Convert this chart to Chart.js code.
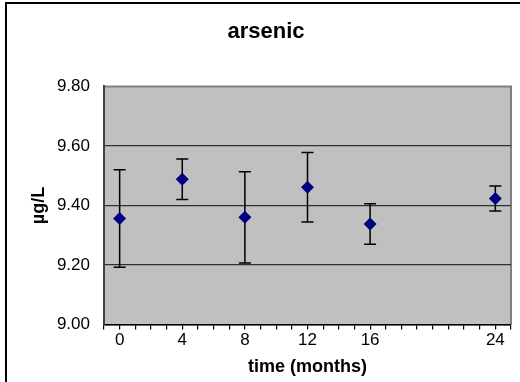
<!DOCTYPE html>
<html>
<head>
<meta charset="utf-8">
<title>arsenic</title>
<script src="https://cdn.jsdelivr.net/npm/chart.js@4/dist/chart.umd.min.js"></script>
<style>
    html, body { margin: 0; padding: 0; background: #fff; overflow: hidden; }
    #wrap { position: relative; width: 520px; height: 382px; }
    #frame {
        position: absolute; left: 5px; top: 2px; width: 530px; height: 400px;
        border-left: 2px solid #000; border-top: 2px solid #000;
        pointer-events: none;
    }
    canvas { position: absolute; left: 0; top: 0; }
</style>
</head>
<body>
<div id="wrap">
    <canvas id="chart" width="520" height="382"></canvas>
    <div id="frame"></div>
</div>
<script>
// sampling times (months) and measured arsenic, mean +/- sd
const months = [0, 4, 8, 12, 16, 24];
const means = [9.356, 9.488, 9.360, 9.461, 9.338, 9.423];
const sds = [0.164, 0.068, 0.153, 0.117, 0.068, 0.042];
const xTickLabels = [0, 4, 8, 12, 16, 24];
const yTicks = [9.0, 9.2, 9.4, 9.6, 9.8];

const FONT = "'Liberation Sans', Arial, sans-serif";

// grey plot area with a thin darker border on top and right
const plotArea = {
    id: "plotArea",
    beforeDraw(chart) {
        const { ctx, chartArea: a } = chart;
        ctx.save();
        ctx.fillStyle = "#c0c0c0";
        ctx.fillRect(a.left, a.top, a.right - a.left, a.bottom - a.top);
        ctx.strokeStyle = "#808080";
        ctx.lineWidth = 2;
        ctx.beginPath();
        ctx.moveTo(a.left, a.top);
        ctx.lineTo(a.right, a.top);
        ctx.lineTo(a.right, a.bottom);
        ctx.stroke();
        ctx.restore();
    }
};

// vertical error bars with caps, drawn under the markers
const errorBars = {
    id: "errorBars",
    beforeDatasetsDraw(chart) {
        const { ctx, scales: { x, y } } = chart;
        ctx.save();
        ctx.strokeStyle = "#000";
        ctx.lineWidth = 1.5;
        months.forEach((m, i) => {
            const px = x.getPixelForValue(m);
            const top = y.getPixelForValue(means[i] + sds[i]);
            const bot = y.getPixelForValue(means[i] - sds[i]);
            ctx.beginPath();
            ctx.moveTo(px, top);
            ctx.lineTo(px, bot);
            ctx.moveTo(px - 6, top);
            ctx.lineTo(px + 6, top);
            ctx.moveTo(px - 6, bot);
            ctx.lineTo(px + 6, bot);
            ctx.stroke();
        });
        ctx.restore();
    }
};

new Chart(document.getElementById("chart"), {
    type: "scatter",
    data: {
        datasets: [{
            label: "arsenic",
            data: months.map((m, i) => ({ x: m, y: means[i] })),
            pointStyle: "rectRot",
            pointRadius: 6.5,
            pointHoverRadius: 6.5,
            backgroundColor: "#000080",
            borderColor: "#000080",
            borderWidth: 0,
            showLine: false
        }]
    },
    options: {
        responsive: false,
        animation: false,
        events: [],
        layout: { padding: { left: 21, right: 9, top: 0, bottom: 0 } },
        plugins: {
            legend: { display: false },
            tooltip: { enabled: false },
            title: {
                display: true,
                text: "arsenic",
                color: "#000",
                font: { family: FONT, size: 22, weight: "bold" },
                padding: { top: 19, bottom: 41 }
            }
        },
        scales: {
            x: {
                type: "linear",
                min: -1,
                max: 25,
                afterFit: s => { s.height = 57.5; },
                ticks: {
                    stepSize: 1,
                    autoSkip: false,
                    maxRotation: 0,
                    padding: 1,
                    color: "#000",
                    font: { family: FONT, size: 17 },
                    callback: v => xTickLabels.includes(v) ? String(v) : ""
                },
                grid: {
                    drawOnChartArea: false,
                    drawTicks: true,
                    tickLength: 5,
                    color: "#000",
                    lineWidth: 1.2
                },
                border: { color: "#000", width: 1.5 },
                title: {
                    display: true,
                    text: "time (months)",
                    color: "#000",
                    font: { family: FONT, size: 18, weight: "bold" },
                    padding: { top: 0, bottom: 4 }
                }
            },
            y: {
                min: 9.0,
                max: 9.8,
                afterFit: s => { s.width = 83; },
                afterBuildTicks: s => { s.ticks = yTicks.map(v => ({ value: v })); },
                ticks: {
                    padding: 14,
                    color: "#000",
                    font: { family: FONT, size: 17 },
                    callback: v => v.toFixed(2)
                },
                grid: {
                    drawTicks: false,
                    color: c => c.tick && c.tick.value >= 9.8 ? "rgba(0,0,0,0)" : "#303030",
                    lineWidth: 1.2
                },
                border: { color: "#404040", width: 2 },
                title: {
                    display: true,
                    text: "µg/L",
                    color: "#000",
                    font: { family: FONT, size: 18, weight: "bold" },
                    padding: { top: 7, bottom: 0 }
                }
            }
        }
    },
    plugins: [plotArea, errorBars]
});
</script>
</body>
</html>
